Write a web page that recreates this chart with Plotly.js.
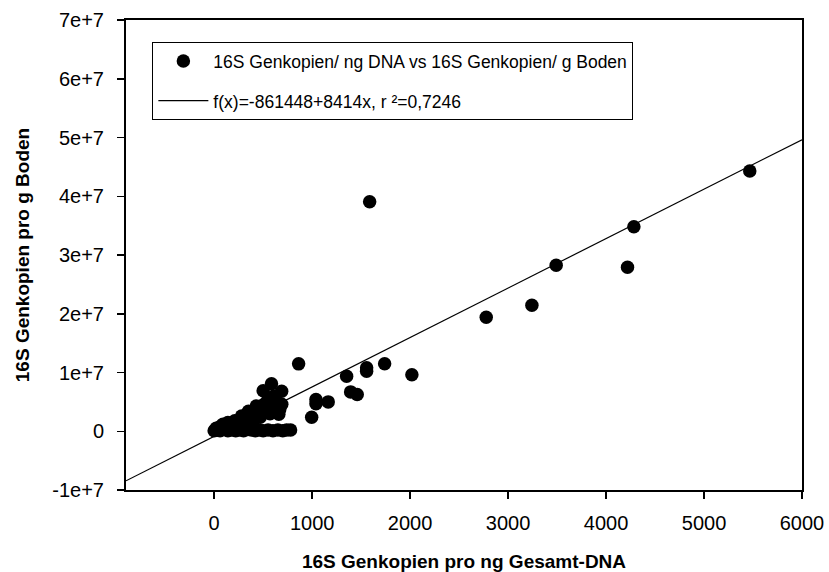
<!DOCTYPE html>
<html>
<head>
<meta charset="utf-8">
<script src="https://cdn.plot.ly/plotly-3.0.1.min.js"></script>
<style>html,body{margin:0;padding:0;background:#fff;}#chart{width:829px;height:572px;}</style>
</head>
<body>
<div id="chart"></div>
<script>
// 16S Genkopien pro ng Gesamt-DNA
const dnaCopies = [
  0, 30, 60, 100, 140, 180, 220, 260, 300, 340, 380, 420, 460, 500, 550, 600, 650, 700, 740, 780,
  20, 70, 90, 120, 140, 180, 210, 250, 280, 300, 330, 350, 370, 400, 430, 450, 470, 500, 510, 530,
  550, 570, 585, 600, 610, 630, 640, 670, 689, 690, 660,
  862, 995, 1039, 1039, 1164, 1352, 1393, 1460, 1556, 1556, 1587, 1740, 2018, 2777, 3243, 3491, 4219, 4284, 5467
];
// 16S Genkopien pro g Boden
const soilCopies = [
  1.0e5, 2.0e5, 1.0e5, 3.0e5, 1.0e5, 2.0e5, 1.0e5, 2.0e5, 1.0e5, 3.0e5, 2.0e5, 1.0e5, 2.0e5, 1.0e5, 2.0e5, 1.0e5, 2.0e5, 1.0e5, 2.0e5, 2.0e5,
  5.0e5, 9.0e5, 1.2e6, 7.0e5, 1.5e6, 1.1e6, 1.8e6, 1.3e6, 2.6e6, 2.0e6, 1.2e6, 3.4e6, 2.6e6, 1.8e6, 4.3e6, 3.2e6, 2.4e6, 6.9e6, 4.6e6, 3.6e6,
  5.4e6, 3.0e6, 8.1e6, 4.4e6, 6.0e6, 3.2e6, 5.0e6, 3.8e6, 6.8e6, 4.6e6, 2.9e6,
  1.147e7, 2.38e6, 5.4e6, 4.7e6, 5.0e6, 9.36e6, 6.7e6, 6.25e6, 1.08e7, 1.02e7, 3.905e7, 1.15e7, 9.6e6, 1.94e7, 2.145e7, 2.826e7, 2.79e7, 3.48e7, 4.43e7
];
// regression: f(x) = intercept + slope * x
const fitIntercept = -861448;
const fitSlope = 8414;
const fitXRange = [-900, 6000];
const fitY = fitXRange.map(x => fitIntercept + fitSlope * x);

const xTickVals = [0, 1000, 2000, 3000, 4000, 5000, 6000];
const xTickText = ['0', '1000', '2000', '3000', '4000', '5000', '6000'];
const yTickVals = [-1e7, 0, 1e7, 2e7, 3e7, 4e7, 5e7, 6e7, 7e7];
const yTickText = ['-1e+7', '0', '1e+7', '2e+7', '3e+7', '4e+7', '5e+7', '6e+7', '7e+7'];

const seriesName = '16S Genkopien/ ng DNA vs 16S Genkopien/ g Boden';
const fitName = 'f(x)=-861448+8414x, r ²=0,7246';

const FONT = 'Liberation Sans, Arial, sans-serif';

const traces = [
  {
    x: dnaCopies, y: soilCopies, type: 'scatter', mode: 'markers', name: seriesName,
    legendgroup: 'a',
    marker: {color: '#000000', size: 13.5, line: {width: 0}},
    cliponaxis: false
  },
  {
    x: fitXRange, y: fitY, type: 'scatter', mode: 'lines', name: fitName,
    legendgroup: 'b',
    line: {color: '#000000', width: 1.2}
  }
];

const layout = {
  width: 829, height: 572,
  margin: {l: 126, r: 27, t: 20, b: 82},
  paper_bgcolor: '#ffffff', plot_bgcolor: '#ffffff',
  font: {family: FONT, color: '#000000'},
  showlegend: true,
  legend: {
    x: 0.039, y: 0.953, xanchor: 'left', yanchor: 'top',
    bordercolor: '#000000', borderwidth: 1, bgcolor: '#ffffff',
    font: {family: FONT, size: 17.5, color: '#000000'},
    traceorder: 'grouped', tracegroupgap: 14, itemwidth: 50,
    itemclick: false
  },
  xaxis: {
    range: [-900, 6000], tickmode: 'array', tickvals: xTickVals, ticktext: xTickText,
    showgrid: false, zeroline: false, showline: true, linecolor: '#000000', linewidth: 2, mirror: true,
    ticks: 'outside', ticklen: 7, tickwidth: 1.5, tickcolor: '#000000',
    tickfont: {family: FONT, size: 20, color: '#000000'}, ticklabelstandoff: 7,
    title: {text: '<b>16S Genkopien pro ng Gesamt-DNA</b>', font: {family: FONT, size: 19, color: '#000000'}, standoff: 22}
  },
  yaxis: {
    range: [-1e7, 7e7], tickmode: 'array', tickvals: yTickVals, ticktext: yTickText,
    showgrid: false, zeroline: false, showline: true, linecolor: '#000000', linewidth: 2, mirror: true,
    ticks: 'outside', ticklen: 7, tickwidth: 1.5, tickcolor: '#000000',
    tickfont: {family: FONT, size: 20, color: '#000000'}, ticklabelstandoff: 9,
    title: {text: '<b>16S Genkopien pro g Boden</b>', font: {family: FONT, size: 19, color: '#000000'}, standoff: 18}
  }
};

Plotly.newPlot('chart', traces, layout, {displayModeBar: false, staticPlot: true});
</script>
</body>
</html>
